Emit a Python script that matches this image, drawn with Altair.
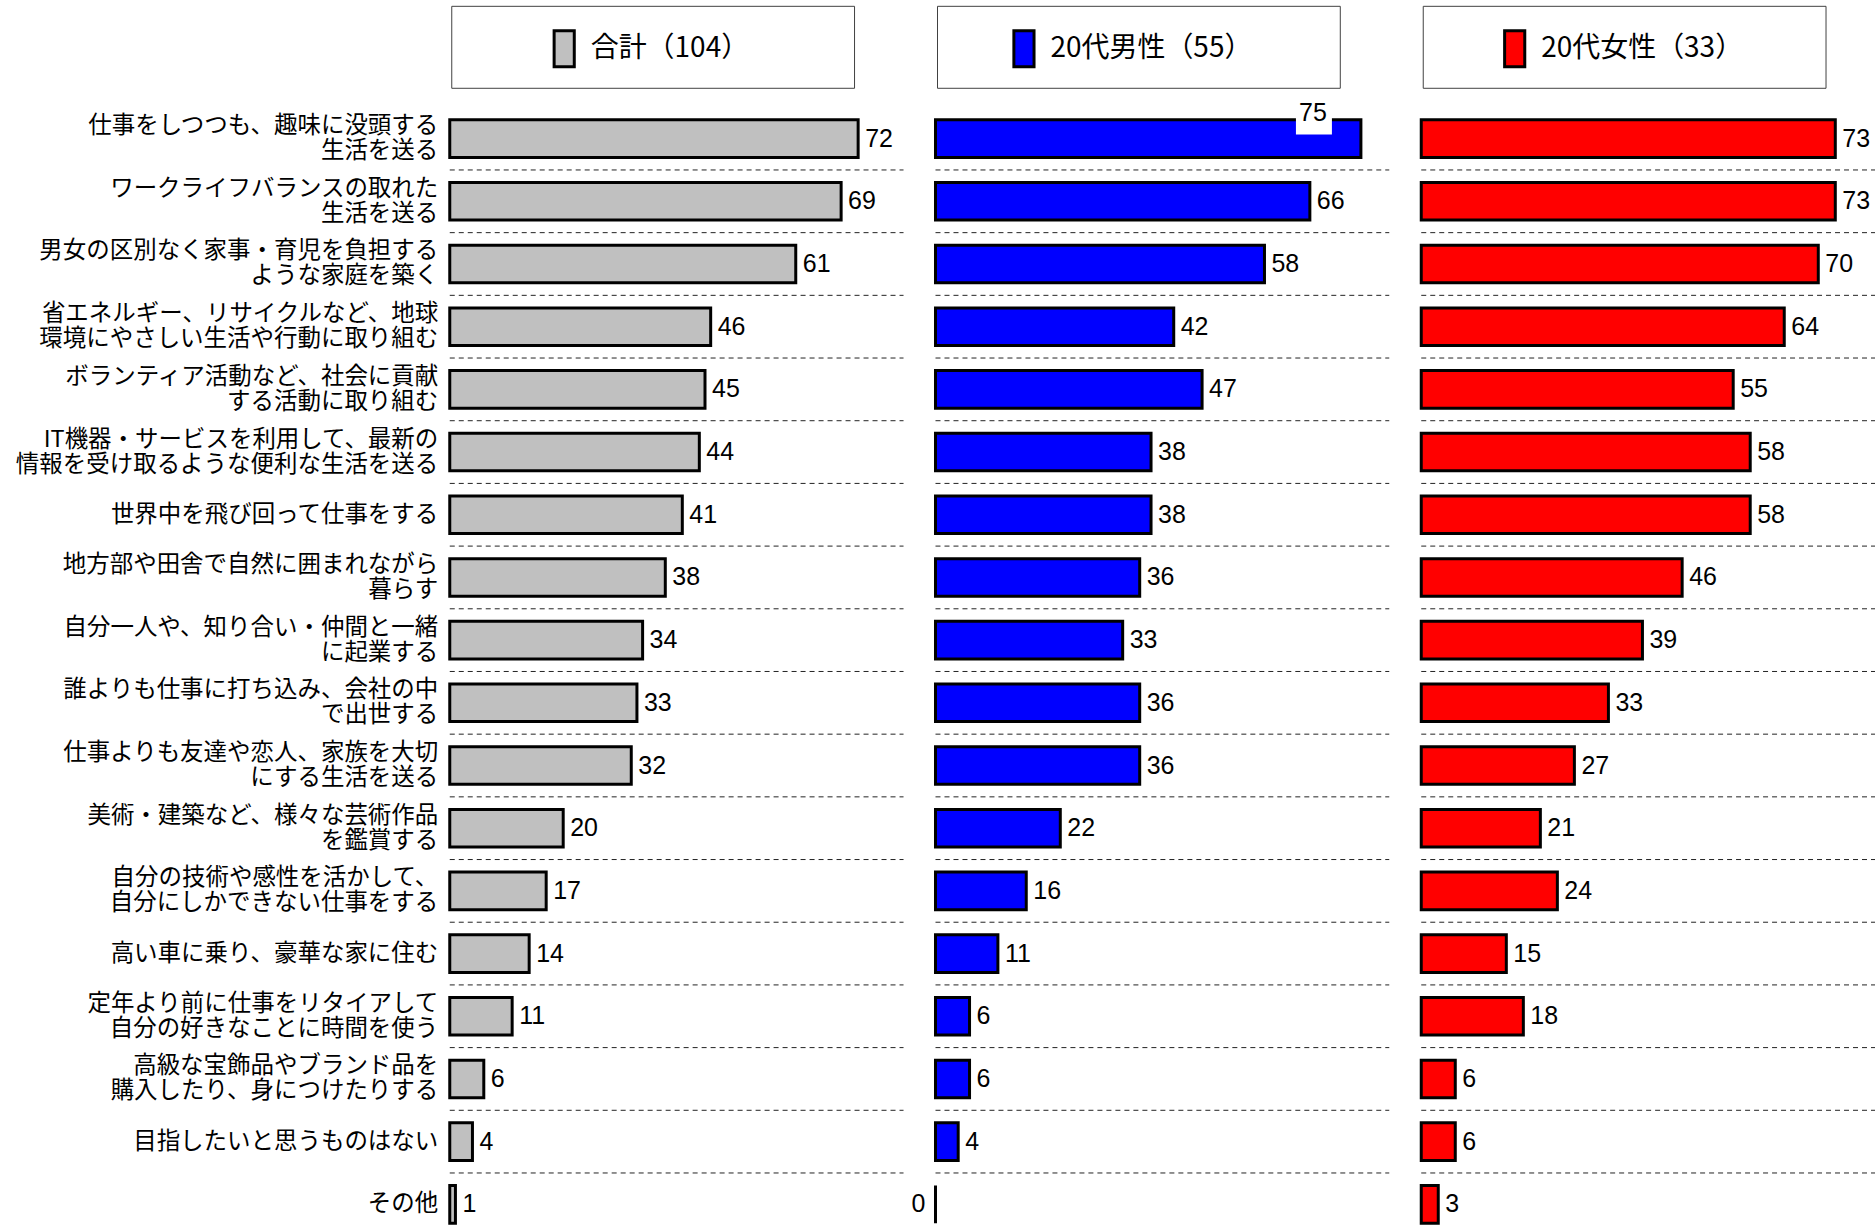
import altair as alt
import pandas as pd

categories = [
    "仕事をしつつも、趣味に没頭する\n生活を送る",
    "ワークライフバランスの取れた\n生活を送る",
    "男女の区別なく家事・育児を負担する\nような家庭を築く",
    "省エネルギー、リサイクルなど、地球\n環境にやさしい生活や行動に取り組む",
    "ボランティア活動など、社会に貢献\nする活動に取り組む",
    "IT機器・サービスを利用して、最新の\n情報を受け取るような便利な生活を送る",
    "世界中を飛び回って仕事をする",
    "地方部や田舎で自然に囲まれながら\n暮らす",
    "自分一人や、知り合い・仲間と一緒\nに起業する",
    "誰よりも仕事に打ち込み、会社の中\nで出世する",
    "仕事よりも友達や恋人、家族を大切\nにする生活を送る",
    "美術・建築など、様々な芸術作品\nを鑑賞する",
    "自分の技術や感性を活かして、\n自分にしかできない仕事をする",
    "高い車に乗り、豪華な家に住む",
    "定年より前に仕事をリタイアして\n自分の好きなことに時間を使う",
    "高級な宝飾品やブランド品を\n購入したり、身につけたりする",
    "目指したいと思うものはない",
    "その他",
]
total = [72, 69, 61, 46, 45, 44, 41, 38, 34, 33, 32, 20, 17, 14, 11, 6, 4, 1]
male = [75, 66, 58, 42, 47, 38, 38, 36, 33, 36, 36, 22, 16, 11, 6, 6, 4, 0]
female = [73, 73, 70, 64, 55, 58, 58, 46, 39, 33, 27, 21, 24, 15, 18, 6, 6, 3]
series_names = ["合計（104）", "20代男性（55）", "20代女性（33）"]
series_colors = ["#C0C0C0", "#0000FF", "#FF0000"]

W = 454
H = 1129
STEP = H / len(categories)
LABEL_FONT = "Noto Sans CJK JP"
NUM_FONT = "Liberation Sans"
NUM_SIZE = 25
LINE_H = 25
SYMBOL = "M-0.56,-1H0.56V1H-0.56Z"
BOX_PATH = "M-1,-0.5H1V0.5H-1Z"


def make_panel(values, name, color, legend_x, show_axis):
    df = pd.DataFrame({"item": categories, "value": values, "series": name})
    scale_y = alt.Scale(domain=categories, paddingInner=0.4, paddingOuter=0.2)
    if show_axis:
        axis = alt.Axis(
            labelExpr="split(datum.value, '\\n')",
            labelFont=LABEL_FONT,
            labelFontSize=23.5,
            labelLineHeight=LINE_H,
            labelPadding=12,
            labelColor="black",
            labelLimit=1000,
            labelOffset={
                "condition": {"test": "indexof(datum.value, '\\n') >= 0", "value": -LINE_H / 2},
                "value": 0,
            },
            ticks=False,
            domain=False,
            grid=False,
            title=None,
        )
        y_enc = alt.Y("item:N", sort=categories, scale=scale_y, axis=axis)
    else:
        y_enc = alt.Y("item:N", sort=categories, scale=scale_y, axis=None)
    x_enc = alt.X("value:Q", scale=alt.Scale(domain=[0, 80]), axis=None)

    box = alt.Chart(pd.DataFrame({"k": [0]})).mark_rect(
        fill="white", stroke="#404040", strokeWidth=1
    ).encode(
        x=alt.value(2), x2=alt.value(405), y=alt.value(-101), y2=alt.value(-19)
    )

    rules = alt.Chart(pd.DataFrame({"item": categories[1:]})).mark_rule(
        strokeDash=[5, 4], color="#222222", strokeWidth=1, yOffset=-STEP / 2
    ).encode(y=y_enc, x=alt.value(0), x2=alt.value(W))

    base = alt.Chart(df)
    bars = base.mark_bar(stroke="black", strokeWidth=3).encode(
        x=x_enc,
        y=y_enc,
        color=alt.Color(
            "series:N",
            scale=alt.Scale(domain=[name], range=[color]),
            legend=alt.Legend(
                orient="none",
                legendX=legend_x,
                legendY=-78,
                title=None,
                labelFont=LABEL_FONT,
                labelFontSize=28,
                labelColor="black",
                labelLimit=600,
                labelOffset=7,
                symbolType=SYMBOL,
                symbolSize=1296,
                symbolStrokeColor="black",
                symbolStrokeWidth=3,
                symbolOpacity=1,
                padding=0,
            ),
        ),
    )

    labels = base.mark_text(
        align="left", baseline="middle", dx=7, font=NUM_FONT, fontSize=NUM_SIZE, color="black"
    ).encode(x=x_enc, y=y_enc, text="value:Q").transform_filter(
        "datum.value > 0 && datum.value < 75"
    )

    zero_labels = base.mark_text(
        align="right", baseline="middle", dx=-10, font=NUM_FONT, fontSize=NUM_SIZE, color="black"
    ).encode(x=x_enc, y=y_enc, text="value:Q").transform_filter("datum.value == 0")

    high_bg = base.mark_point(
        shape=BOX_PATH, size=36 * 36, filled=True, fill="white", opacity=1,
        strokeWidth=0, xOffset=-47, yOffset=-13
    ).encode(x=x_enc, y=y_enc).transform_filter("datum.value >= 75")

    high_labels = base.mark_text(
        align="center", baseline="middle", dx=-48, dy=-26, font=NUM_FONT, fontSize=NUM_SIZE, color="black"
    ).encode(x=x_enc, y=y_enc, text="value:Q").transform_filter("datum.value >= 75")

    return alt.layer(box, rules, bars, labels, zero_labels, high_bg, high_labels).properties(
        width=W, height=H
    )


p1 = make_panel(total, series_names[0], series_colors[0], 95, True)
p2 = make_panel(male, series_names[1], series_colors[1], 69, False)
p3 = make_panel(female, series_names[2], series_colors[2], 74, False)

chart = (
    alt.hconcat(p1, p2, p3, spacing=32, bounds="flush")
    .resolve_scale(color="independent")
    .configure_view(strokeWidth=0)
    .properties(background="white", padding={"left": 15, "top": 5, "right": 0, "bottom": 5})
)

chart.save("out.html", embed_options={"renderer": "svg", "actions": False})
